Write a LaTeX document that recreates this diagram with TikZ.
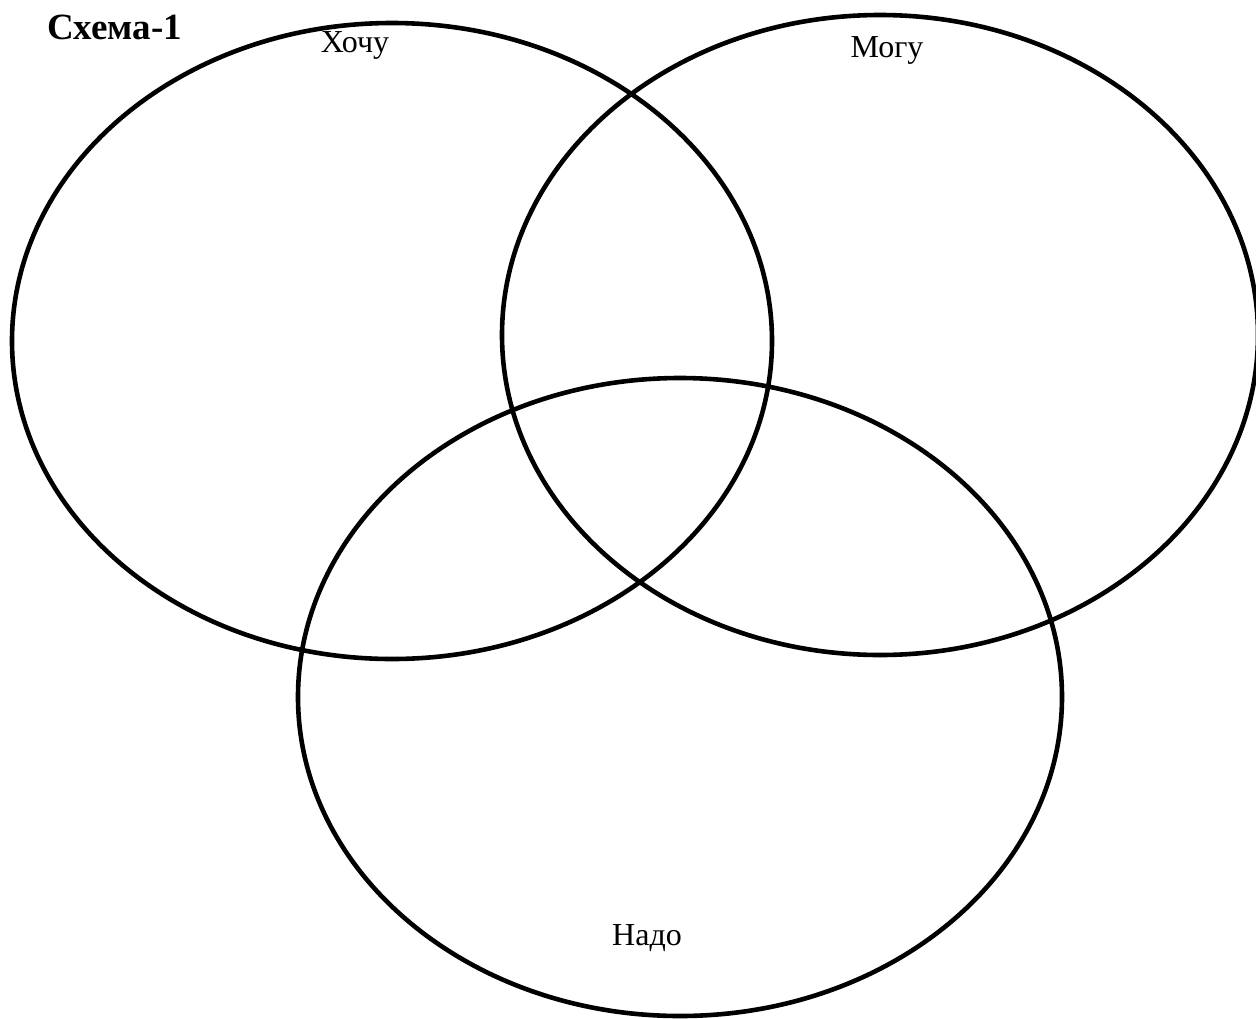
\documentclass[tikz,border=0pt]{standalone}
\usepackage{fontspec}
\setmainfont{Liberation Serif}
\begin{document}
\begin{tikzpicture}[x=1pt,y=-1pt,
  venn/.style={draw=black,line width=4.6pt},
  lbl/.style={inner sep=0pt,font=\fontsize{32}{38}\selectfont},
  ttl/.style={inner sep=0pt,font=\fontsize{37}{42}\selectfont\bfseries}]
\useasboundingbox (0,0) rectangle (1256,1018);
\draw[venn] (392,341) ellipse [x radius=380,y radius=318];
\draw[venn] (880,335) ellipse [x radius=378,y radius=320];
\draw[venn] (680,697) ellipse [x radius=382,y radius=319];
\node[ttl,anchor=west] (title) at (47,27) {Схема-1};
\node[lbl] (want) at (355,45) {Хочу};
\node[lbl] (can) at (887,50) {Могу};
\node[lbl] (must) at (647,938) {Надо};
\end{tikzpicture}
\end{document}
